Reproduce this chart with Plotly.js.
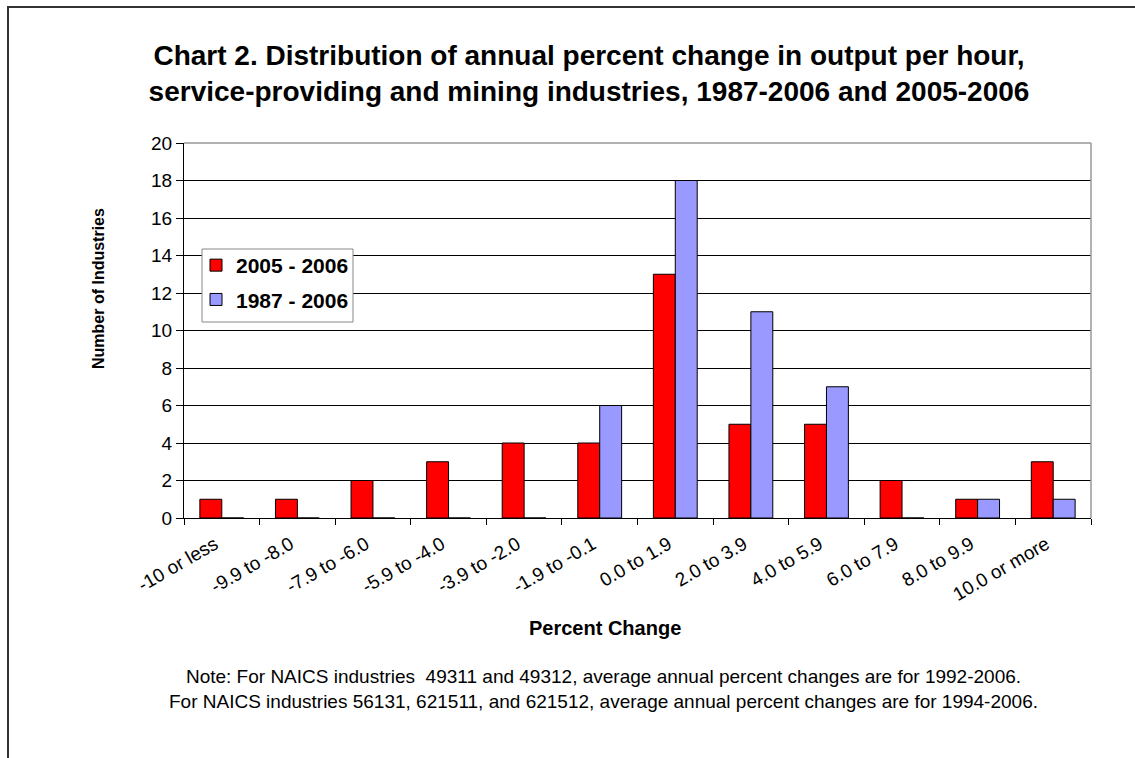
<!DOCTYPE html>
<html>
<head>
<meta charset="utf-8">
<script src="https://cdn.plot.ly/plotly-3.0.1.min.js"></script>
<style>
  html, body { margin: 0; padding: 0; overflow: hidden; background: #fff; }
  #frame { position: absolute; left: 7px; top: 6px; width: 2000px; height: 2000px; border: 2px solid #333; pointer-events: none; box-sizing: border-box; }
  #chart { position: absolute; left: 0; top: 0; width: 1135px; height: 758px; }
</style>
</head>
<body>
<div id="chart"></div>
<div id="frame"></div>
<script>
const categories = ["-10 or less", "-9.9 to -8.0", "-7.9 to -6.0", "-5.9 to -4.0", "-3.9 to -2.0", "-1.9 to -0.1",
                    "0.0 to 1.9", "2.0 to 3.9", "4.0 to 5.9", "6.0 to 7.9", "8.0 to 9.9", "10.0 or more"];
const series2005 = [1, 1, 2, 3, 4, 4, 13, 5, 5, 2, 1, 3];
const series1987 = [0, 0, 0, 0, 0, 6, 18, 11, 7, 0, 1, 1];
const seriesNames = ["2005 - 2006", "1987 - 2006"];
const yTicks = [0, 2, 4, 6, 8, 10, 12, 14, 16, 18, 20];

const FONT = "Liberation Sans, Arial, Helvetica, sans-serif";
const W = 1135, H = 758;
const L = 184, R = 1091, T = 143, B = 518;
const pw = R - L, ph = B - T;
const px = x => (x - L) / pw;
const py = y => (B - y) / ph;

const traces = [
  { type: "bar", name: seriesNames[0], x: categories, y: series2005, legendgroup: "a",
    marker: { color: "#FF0000", line: { color: "#000", width: 1 } } },
  { type: "bar", name: seriesNames[1], x: categories, y: series1987, legendgroup: "b",
    marker: { color: "#9999FF", line: { color: "#000", width: 1 } } }
];

const layout = {
  width: W, height: H,
  margin: { l: L, r: W - R, t: T, b: H - B, pad: 0 },
  paper_bgcolor: "rgba(0,0,0,0)", plot_bgcolor: "#fff",
  font: { family: FONT, color: "#000" },
  barmode: "group", bargap: 0.42, bargroupgap: 0,
  showlegend: true,
  title: {
    text: "Chart 2. Distribution of annual percent change in output per hour,<br>service-providing and mining industries, 1987-2006 and 2005-2006",
    font: { family: FONT, size: 28, color: "#000", weight: "bold" },
    xref: "container", x: 589 / W, xanchor: "center",
    yref: "container", y: 1 - 64.5 / H, yanchor: "middle"
  },
  legend: {
    x: px(196), y: py(245), xanchor: "left", yanchor: "top",
    bgcolor: "rgba(0,0,0,0)", borderwidth: 0,
    font: { family: FONT, size: 21, color: "#000", weight: "bold" },
    traceorder: "grouped", tracegroupgap: 4, itemwidth: 30
  },
  xaxis: {
    type: "category", tickangle: -30,
    tickfont: { family: FONT, size: 19, color: "#000" },
    ticks: "outside", ticklen: 6, tickcolor: "#000", tickson: "boundaries",
    ticklabelstandoff: 7, ticklabelshift: -7,
    showline: true, linecolor: "#000", linewidth: 1,
    showgrid: false, zeroline: false, fixedrange: true
  },
  yaxis: {
    range: [0, 20], tickvals: yTicks, ticktext: yTicks.map(String),
    tickfont: { family: FONT, size: 19, color: "#000" },
    ticks: "outside", ticklen: 7, tickcolor: "#000",
    showline: true, linecolor: "#000", linewidth: 1,
    showgrid: true, gridcolor: "#000", gridwidth: 1,
    zeroline: false, fixedrange: true
  },
  shapes: [
    { type: "line", xref: "paper", yref: "paper", x0: 0, x1: 1, y0: 1, y1: 1, line: { color: "#999", width: 1.5 }, layer: "above" },
    { type: "line", xref: "paper", yref: "paper", x0: 1, x1: 1, y0: 0, y1: 1, line: { color: "#999", width: 1.5 }, layer: "above" },
    { type: "rect", xref: "paper", yref: "paper", x0: px(202), x1: px(353), y0: py(249), y1: py(322),
      fillcolor: "#fff", line: { color: "#888", width: 1 }, layer: "above" }
  ],
  annotations: [
    { text: "<b>Percent Change</b>", xref: "paper", yref: "paper", x: px(605), y: py(628),
      xanchor: "center", yanchor: "middle", showarrow: false, font: { family: FONT, size: 20, color: "#000" } },
    { text: "<b>Number of Industries</b>", xref: "paper", yref: "paper", x: px(98), y: py(289),
      xanchor: "center", yanchor: "middle", textangle: -90, showarrow: false, font: { family: FONT, size: 16, color: "#000" } },
    { text: "Note: For NAICS industries  49311 and 49312, average annual percent changes are for 1992-2006.<br>For NAICS industries 56131, 621511, and 621512, average annual percent changes are for 1994-2006.",
      xref: "paper", yref: "paper", x: px(603), y: py(689), xanchor: "center", yanchor: "middle",
      showarrow: false, align: "center", font: { family: FONT, size: 19, color: "#000" } }
  ]
};

Plotly.newPlot("chart", traces, layout, { displayModeBar: false, staticPlot: true });
</script>
</body>
</html>
